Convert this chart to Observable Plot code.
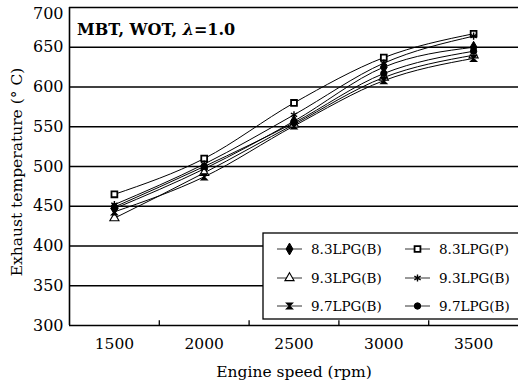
<!DOCTYPE html>
<html><head><meta charset="utf-8">
<script src="https://cdn.jsdelivr.net/npm/d3@7"></script>
<script src="https://cdn.jsdelivr.net/npm/@observablehq/plot@0.6"></script>
<style>
html,body{margin:0;padding:0;background:#fff;}
svg{display:block;}
</style>
</head><body>
<div id="chart"></div>
<script>
// ---- data ----
const speeds = [1500, 2000, 2500, 3000, 3500];
const seriesNames = ["8.3LPG(B)", "8.3LPG(P)", "9.3LPG(B)", "9.3LPG(B) ", "9.7LPG(B)", "9.7LPG(B) "];
const s83B = [447, 497, 557, 625, 650];
const s83P = [465, 510, 580, 637, 667];
const s93B_tri = [435, 492, 553, 612, 640];
const s93B_ast = [452, 503, 565, 630, 664];
const s97B_bar = [443, 487, 551, 608, 636];
const s97B_dot = [449, 500, 555, 617, 645];
const seriesValues = [s83B, s83P, s93B_tri, s93B_ast, s97B_bar, s97B_dot];
const yTicks = [300, 350, 400, 450, 500, 550, 600, 650, 700];
const xTicks = [1500, 2000, 2500, 3000, 3500];
const xMinorTicks = [1750, 2250, 2750, 3250];
const xDomain = [1250, 3750];
const yDomain = [300, 700];
const titleMain = "MBT, WOT, ";
const titleLambda = "λ";
const titleRest = "=1.0";
const xLabel = "Engine speed (rpm)";
const yLabel = "Exhaust temperature (° C)";

// ---- symbols ----
const hourglass = {
  draw(ctx, size) {
    const r = Math.sqrt(size) / 2;
    ctx.moveTo(-r, -r); ctx.lineTo(r, -r); ctx.lineTo(-r, r); ctx.lineTo(r, r); ctx.closePath();
    ctx.moveTo(0, -r); ctx.lineTo(0, r);
  }
};
const styles = [
  {symbol: d3.symbolDiamond, fill: "black", stroke: "black", r: 3.6},
  {symbol: d3.symbolSquare, fill: "white", stroke: "black", r: 3.3, sw: 1.8},
  {symbol: d3.symbolTriangle, fill: "white", stroke: "black", r: 3.4, sw: 1.1},
  {symbol: d3.symbolAsterisk, fill: "none", stroke: "black", r: 3.4, sw: 1.4},
  {symbol: hourglass, fill: "black", stroke: "black", r: 3.4, sw: 1.2},
  {symbol: d3.symbolCircle, fill: "black", stroke: "black", r: 3.2}
];

const rows = [];
seriesValues.forEach((vals, i) => vals.forEach((v, j) => rows.push({series: seriesNames[i], idx: i, speed: speeds[j], temp: v})));

const font = "'DejaVu Serif', serif";
const yMax = yDomain[1];

const chart = Plot.plot({
  width: 518, height: 392,
  marginLeft: 69, marginRight: 0, marginTop: 7, marginBottom: 67,
  style: {fontFamily: font, fontSize: "15px", color: "black", background: "white", overflow: "visible"},
  x: {domain: xDomain},
  y: {domain: yDomain},
  marks: [
    Plot.ruleY(yTicks, {stroke: "black", strokeWidth: 1.5}),
    Plot.ruleX([xDomain[0]], {stroke: "black", strokeWidth: 1.6}),
    Plot.ruleX(xMinorTicks, {y1: yDomain[0], y2: yDomain[0] + 6, stroke: "black", strokeWidth: 1.3}),
    Plot.axisX({ticks: xTicks, tickSize: 0, tickPadding: 12, tickFormat: d => String(d), label: null, fontSize: 15.5}),
    Plot.axisY({ticks: yTicks.filter(v => v !== yMax), tickSize: 0, tickPadding: 6, tickFormat: d => String(d), label: null, fontSize: 16}),
    Plot.axisY({ticks: [yMax], tickSize: 0, tickPadding: 6, tickFormat: d => String(d), label: null, fontSize: 16, dy: 6}),
    Plot.text([xLabel], {frameAnchor: "bottom", dy: 51, fontSize: 15.5, fill: "black"}),
    Plot.line(rows, {x: "speed", y: "temp", z: "series", curve: "monotone-x", stroke: "black", strokeWidth: 1}),
    ...styles.map((st, i) => Plot.dot(rows.filter(d => d.idx === i), {
      x: "speed", y: "temp", symbol: st.symbol, r: st.r, fill: st.fill, stroke: st.stroke, strokeWidth: st.sw ?? 1
    }))
  ]
});
document.getElementById("chart").appendChild(chart);

// ---- y label, title & legend ----
const svg = d3.select(chart);
svg.append("text").attr("transform", "translate(22,172) rotate(-90)")
  .attr("text-anchor", "middle").attr("font-family", font).attr("font-size", 15.5)
  .attr("fill", "black").text(yLabel);

const t = svg.append("text").attr("x", 77).attr("y", 35).attr("text-anchor", "start")
  .attr("font-family", font).attr("font-size", 16).attr("font-weight", "bold").attr("fill", "black");
t.append("tspan").text(titleMain);
t.append("tspan").attr("font-style", "italic").text(titleLambda);
t.append("tspan").text(titleRest);

const lg = svg.append("g");
lg.append("rect").attr("x", 263).attr("y", 233).attr("width", 262).attr("height", 86)
  .attr("fill", "white").attr("stroke", "black").attr("stroke-width", 1.3);
const colX = [277, 405];
const rowY = [249, 278, 306];
seriesNames.forEach((name, i) => {
  const cx = colX[i % 2], cy = rowY[Math.floor(i / 2)];
  const st = styles[i];
  lg.append("line").attr("x1", cx).attr("x2", cx + 25).attr("y1", cy).attr("y2", cy)
    .attr("stroke", "#333").attr("stroke-width", 1);
  lg.append("path").attr("transform", `translate(${cx + 12.5},${cy})`)
    .attr("d", d3.symbol(st.symbol, Math.PI * st.r * st.r)())
    .attr("fill", st.fill).attr("stroke", st.stroke).attr("stroke-width", st.sw ?? 1);
  lg.append("text").attr("x", cx + 34).attr("y", cy + 5).attr("text-anchor", "start")
    .attr("font-family", font).attr("font-size", 13.5).attr("fill", "black").text(name.trim());
});
</script>
</body></html>
